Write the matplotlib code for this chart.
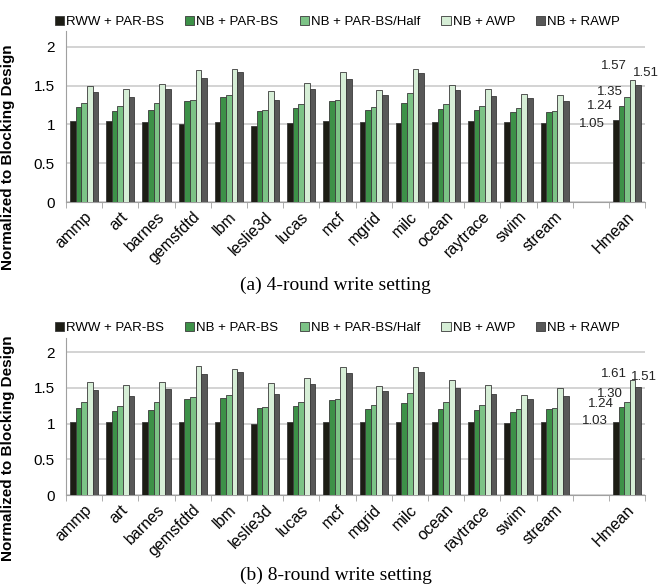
import matplotlib
matplotlib.use('Agg')
import matplotlib.pyplot as plt
import numpy as np

plt.rcParams['font.family'] = ['Liberation Sans', 'DejaVu Sans']

benchmarks = ['ammp', 'art', 'barnes', 'gemsfdtd', 'lbm', 'leslie3d', 'lucas', 'mcf',
              'mgrid', 'milc', 'ocean', 'raytrace', 'swim', 'stream', '', 'Hmean']
series = ['RWW + PAR-BS', 'NB + PAR-BS', 'NB + PAR-BS/Half', 'NB + AWP', 'NB + RAWP']
colors = ['#1d1d15', '#3d9148', '#7cc386', '#d6eed6', '#585858']

# 4-round write setting (empty slot before Hmean -> nan)
rww_4 = [1.04, 1.04, 1.03, 1.00, 1.03, 0.98, 1.02, 1.04, 1.025, 1.02, 1.026, 1.045, 1.025, 1.02, np.nan, 1.05]
par_4 = [1.22, 1.17, 1.19, 1.305, 1.35, 1.17, 1.215, 1.30, 1.18, 1.28, 1.20, 1.19, 1.16, 1.16, np.nan, 1.24]
half_4 = [1.275, 1.23, 1.28, 1.32, 1.38, 1.18, 1.26, 1.32, 1.22, 1.40, 1.26, 1.24, 1.21, 1.17, np.nan, 1.35]
awp_4 = [1.50, 1.45, 1.52, 1.70, 1.71, 1.43, 1.53, 1.67, 1.44, 1.71, 1.51, 1.46, 1.39, 1.38, np.nan, 1.57]
rawp_4 = [1.415, 1.35, 1.45, 1.60, 1.67, 1.31, 1.45, 1.59, 1.38, 1.66, 1.44, 1.36, 1.34, 1.30, np.nan, 1.51]

# 8-round write setting
rww_8 = [1.03, 1.03, 1.03, 1.02, 1.02, 1.00, 1.03, 1.03, 1.03, 1.02, 1.026, 1.03, 1.01, 1.03, np.nan, 1.03]
par_8 = [1.22, 1.18, 1.19, 1.35, 1.36, 1.22, 1.25, 1.33, 1.21, 1.29, 1.21, 1.19, 1.16, 1.20, np.nan, 1.24]
half_8 = [1.30, 1.25, 1.31, 1.37, 1.40, 1.24, 1.31, 1.35, 1.265, 1.43, 1.30, 1.265, 1.21, 1.22, np.nan, 1.30]
awp_8 = [1.58, 1.535, 1.59, 1.81, 1.77, 1.57, 1.64, 1.80, 1.53, 1.79, 1.61, 1.54, 1.40, 1.50, np.nan, 1.61]
rawp_8 = [1.47, 1.39, 1.49, 1.69, 1.72, 1.42, 1.55, 1.71, 1.456, 1.72, 1.50, 1.42, 1.35, 1.39, np.nan, 1.51]

# label placement for the Hmean values: (x offset from Hmean, y, ha)
lab_pos_4 = [(-0.61, 1.00, 'right'), (-0.39, 1.235, 'right'), (-0.11, 1.42, 'right'),
             (0.0, 1.75, 'right'), (0.16, 1.66, 'left')]
lab_pos_8 = [(-0.53, 1.035, 'right'), (-0.36, 1.27, 'right'), (-0.11, 1.42, 'right'),
             (0.0, 1.70, 'right'), (0.10, 1.65, 'left')]

fig = plt.figure(figsize=(6.71, 5.85), dpi=100)
ax1 = fig.add_axes([0.0984, 0.6547, 0.863, 0.292])
ax2 = fig.add_axes([0.0984, 0.1538, 0.863, 0.2684])

x = np.arange(len(benchmarks))
width = 0.156


def draw(ax, data, lab_pos, legend_y, caption, caption_y, ylab_y):
    for i, vals in enumerate(data):
        ax.bar(x + (i - 2) * width, vals, width, color=colors[i], edgecolor='#3a3a3a',
               linewidth=0.6, label=series[i], zorder=3)
    hm = len(benchmarks) - 1
    for i, vals in enumerate(data):
        dx, ty, ha = lab_pos[i]
        ax.text(hm + dx, ty, '%.2f' % vals[hm], ha=ha, va='center', fontsize=9.5, color='#222222')
    ax.set_xlim(-0.5, len(benchmarks) - 0.5)
    ax.set_ylim(0, 2.2)
    ax.set_yticks([0, 0.5, 1, 1.5, 2])
    ax.set_yticklabels(['0', '0.5', '1', '1.5', '2'], fontsize=11)
    ax.yaxis.grid(True, color='#c8c8c8', linewidth=1.1, zorder=0)
    ax.set_axisbelow(True)
    ax.set_xticks(x)
    ax.set_xticklabels(benchmarks, rotation=45, ha='right', rotation_mode='anchor', fontsize=11.5)
    ax.tick_params(axis='x', which='major', length=0, pad=5)
    ax.set_xticks(np.arange(-0.5, len(benchmarks)), minor=True)
    ax.tick_params(axis='x', which='minor', length=4, color='#a0a0a0', direction='out')
    ax.tick_params(axis='y', length=0, pad=8)
    for s in ['top', 'right']:
        ax.spines[s].set_visible(False)
    for s in ['left', 'bottom']:
        ax.spines[s].set_color('#a0a0a0')
    ax.set_ylabel('Normalized to Blocking Design', fontsize=11, fontweight='bold')
    ax.yaxis.set_label_coords(-0.088, ylab_y)
    fig.legend(*ax.get_legend_handles_labels(), loc='center', bbox_to_anchor=(0.503, legend_y),
               ncol=5, frameon=False, fontsize=9.5, handlelength=0.7, handleheight=0.7,
               handletextpad=0.15, columnspacing=1.6, borderaxespad=0)
    fig.text(0.5, caption_y, caption, ha='center', va='center', fontsize=14,
             family='Liberation Serif')


draw(ax1, [rww_4, par_4, half_4, awp_4, rawp_4], lab_pos_4, 0.962,
     '(a) 4-round write setting', 0.513, 0.26)
draw(ax2, [rww_8, par_8, half_8, awp_8, rawp_8], lab_pos_8, 0.439,
     '(b) 8-round write setting', 0.016, 0.3)

fig.savefig('out.png', dpi=100)
